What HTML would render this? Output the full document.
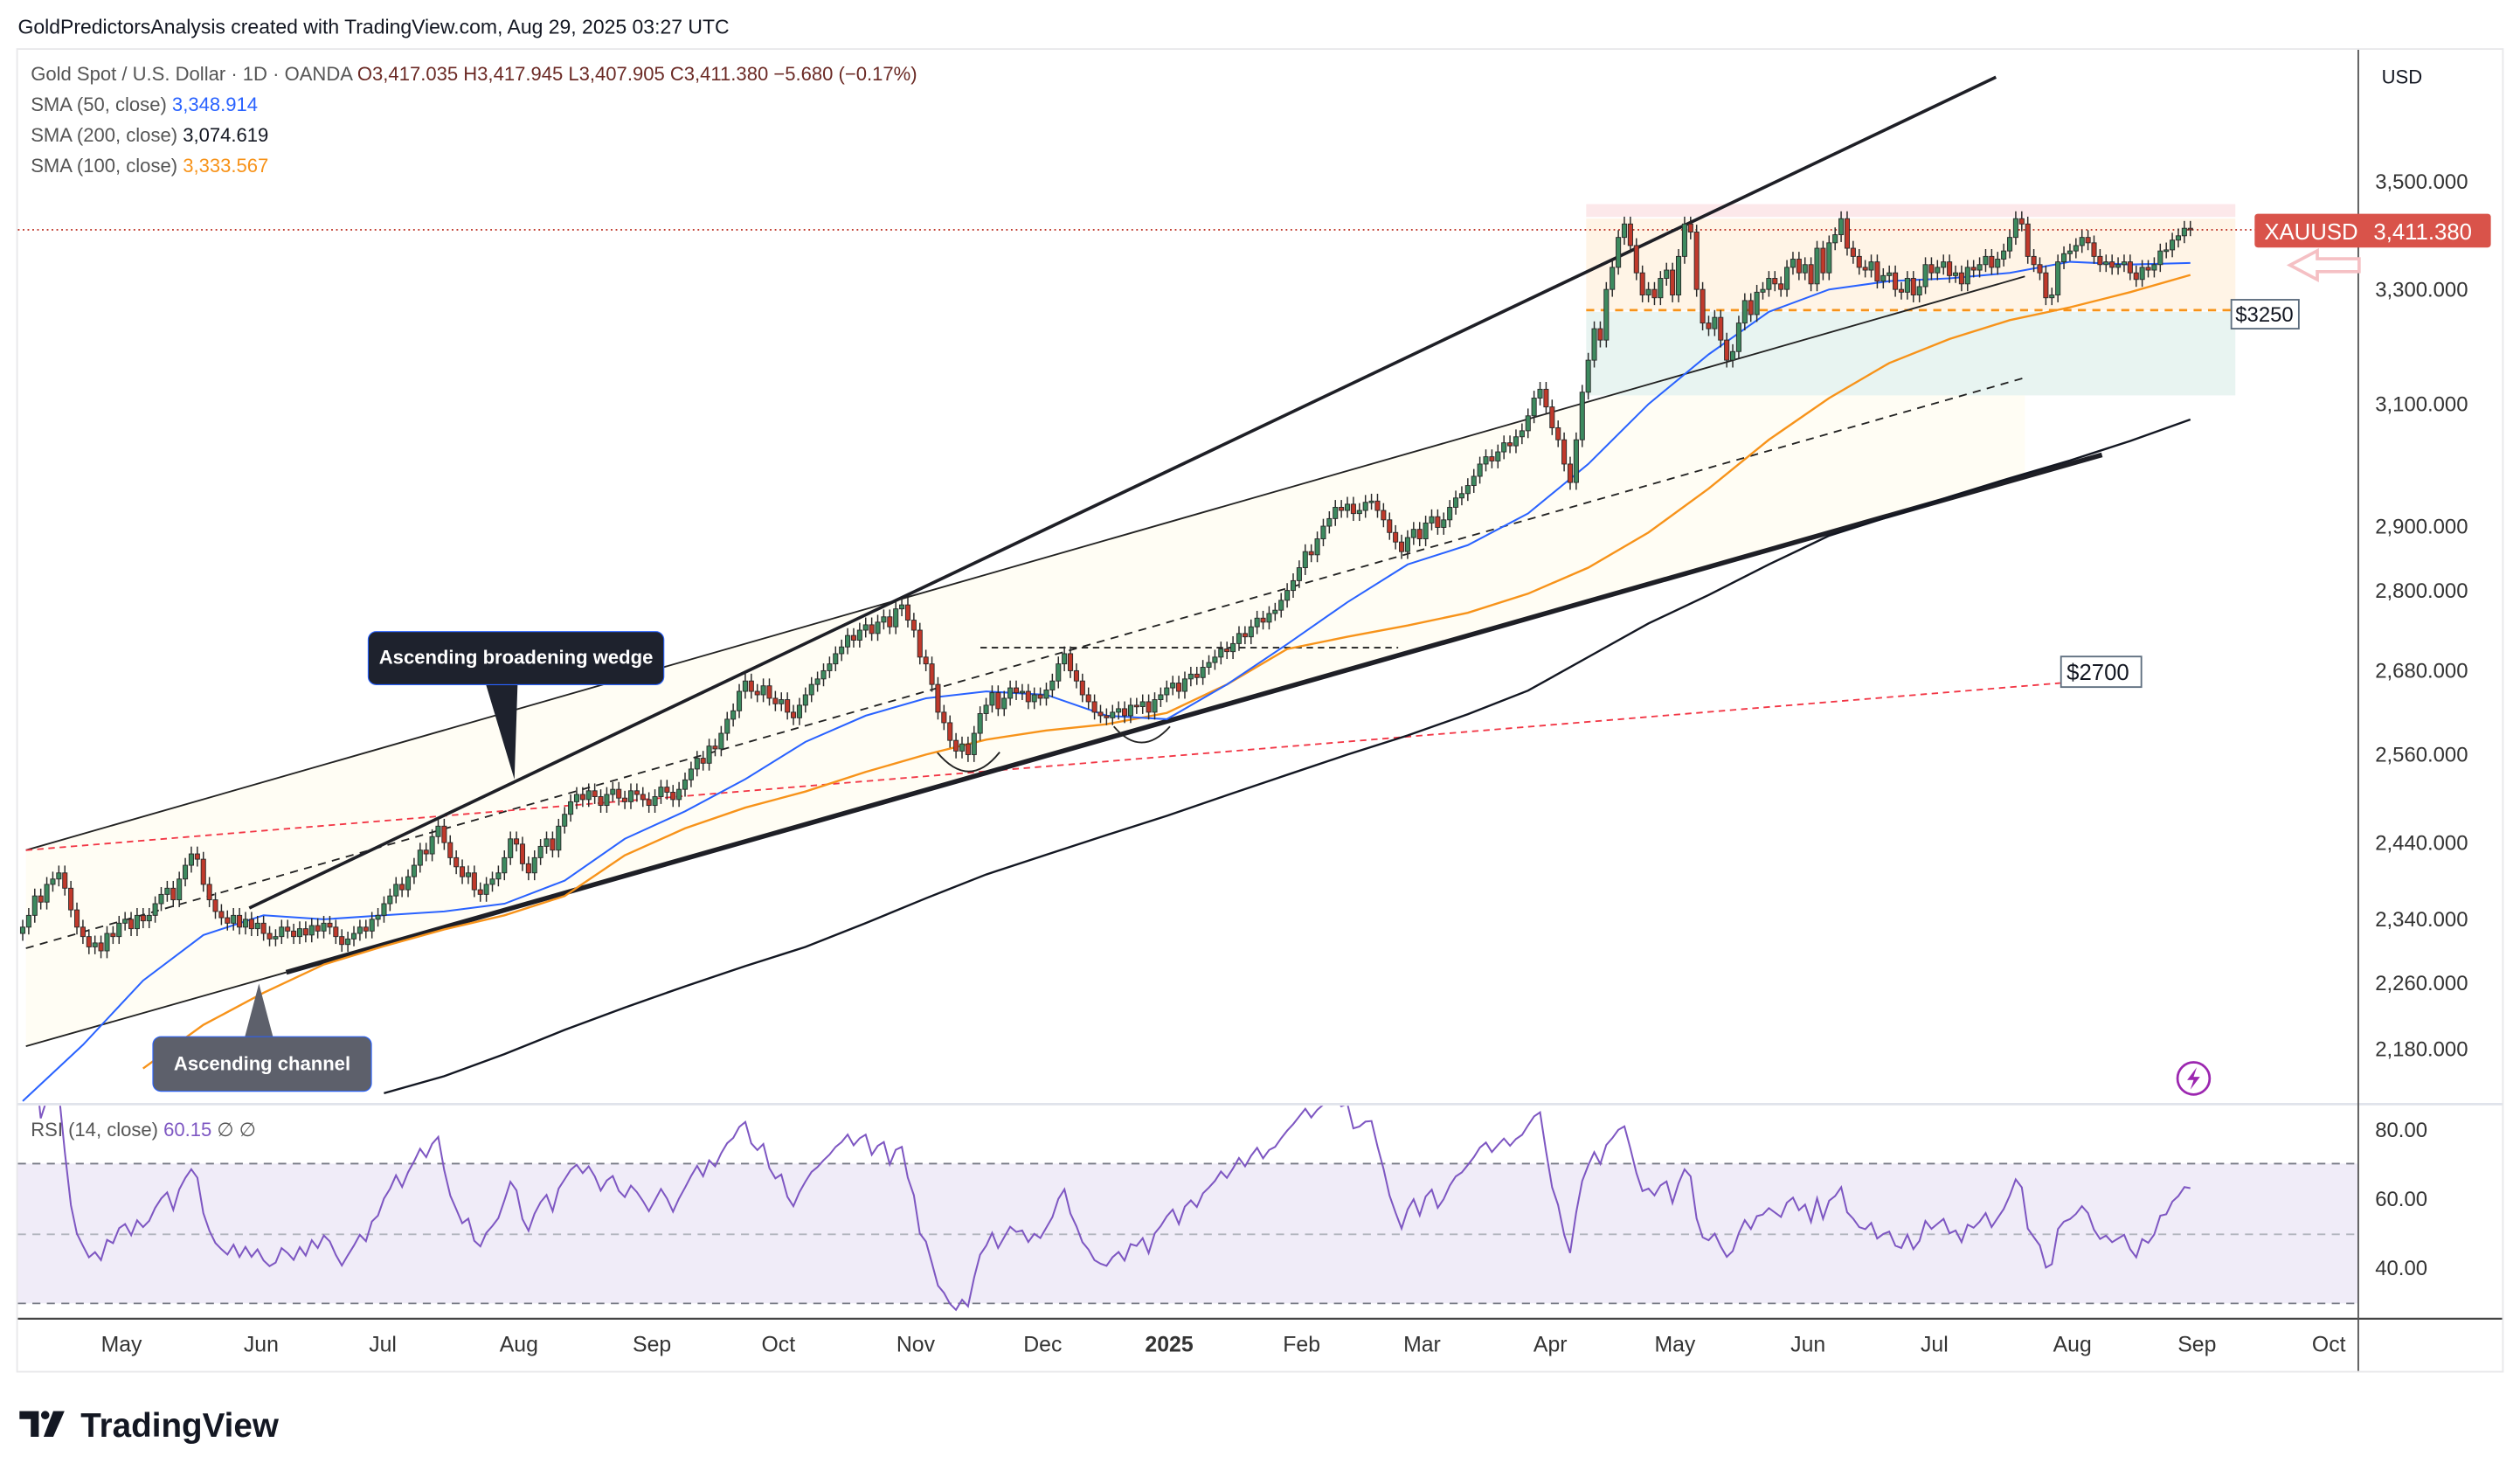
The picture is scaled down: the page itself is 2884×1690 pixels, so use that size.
<!DOCTYPE html>
<html><head><meta charset="utf-8"><style>
html,body{margin:0;padding:0;background:#fff;}
svg{display:block;font-family:"Liberation Sans",sans-serif;}
</style></head><body>
<svg id="chart" width="2884" height="1690" viewBox="0 0 1568 919" xmlns="http://www.w3.org/2000/svg">
<defs>
<clipPath id="mainClip"><rect x="11" y="31" width="1456" height="655"/></clipPath>
<clipPath id="rsiClip"><rect x="11" y="688" width="1456" height="132"/></clipPath>
</defs>
<rect width="1568" height="919" fill="#fff"/>
<text x="11" y="21" font-size="12.5" fill="#131722">GoldPredictorsAnalysis created with TradingView.com, Aug 29, 2025 03:27 UTC</text>
<rect x="10.5" y="30.5" width="1547" height="823" fill="none" stroke="#e8e8ea"/>
<g clip-path="url(#mainClip)">
  <polygon points="16,529 1260,172 1260,297 16,651" fill="#fffdf4"/>
  <rect x="987" y="127" width="404" height="8" fill="#fce8ea"/>
  <rect x="987" y="136" width="404" height="57" fill="#fff4e6"/>
  <rect x="987" y="194" width="404" height="52" fill="#e8f4f1"/>
  <line x1="987" y1="193" x2="1391" y2="193" stroke="#f7931a" stroke-width="1.5" stroke-dasharray="5,4"/>
  <line x1="11" y1="143" x2="1467" y2="143" stroke="#c0392b" stroke-width="1" stroke-dasharray="1,2"/>
  <line x1="16" y1="529" x2="1260" y2="172" stroke="#222" stroke-width="1"/>
  <line x1="16" y1="651" x2="178" y2="605" stroke="#222" stroke-width="1"/>
  <line x1="16" y1="590" x2="1260" y2="235" stroke="#222" stroke-width="1" stroke-dasharray="5,4"/>
  <line x1="16" y1="529" x2="1282" y2="425" stroke="#f23645" stroke-width="1" stroke-dasharray="4,3"/>
  <line x1="610" y1="403" x2="870" y2="403" stroke="#222" stroke-width="1" stroke-dasharray="4,3"/>
  <line x1="155" y1="565" x2="1242" y2="48" stroke="#1e1f26" stroke-width="2"/>
  <line x1="178" y1="605" x2="1308" y2="283" stroke="#1e1f26" stroke-width="3"/>
  <path d="M583,468 Q603,492 622,468" fill="none" stroke="#222" stroke-width="1"/>
  <path d="M693,452 Q710,472 728,452" fill="none" stroke="#222" stroke-width="1"/>
  <g id="smas"></g>
  <g id="candles"></g>
</g>
<g>
  <line x1="11" y1="687" x2="1557" y2="687" stroke="#e0e3eb" stroke-width="1.5"/>
  <rect x="11" y="724" width="1456" height="87" fill="#f0ecf8"/>
  <line x1="11" y1="724" x2="1467" y2="724" stroke="#787b86" stroke-dasharray="5,4"/>
  <line x1="11" y1="768" x2="1467" y2="768" stroke="#b2b5be" stroke-dasharray="5,4"/>
  <line x1="11" y1="811" x2="1467" y2="811" stroke="#787b86" stroke-dasharray="5,4"/>
  <g id="rsi" clip-path="url(#rsiClip)"></g>
  <text x="19" y="707" font-size="12" fill="#555">RSI (14, close) <tspan fill="#7e57c2">60.15</tspan>  ∅  ∅</text>
</g>
<line x1="11" y1="820.5" x2="1557" y2="820.5" stroke="#444" stroke-width="1.2"/>
<line x1="1467.5" y1="31" x2="1467.5" y2="853" stroke="#555" stroke-width="1"/>
<g id="yaxis"></g>
<g id="xaxis"></g>
<g font-size="12">
  <text x="19" y="50" fill="#555">Gold Spot / U.S. Dollar · 1D · OANDA <tspan fill="#6b2a25">O3,417.035 H3,417.945 L3,407.905 C3,411.380 −5.680 (−0.17%)</tspan></text>
  <text x="19" y="69" fill="#555">SMA (50, close) <tspan fill="#2962ff">3,348.914</tspan></text>
  <text x="19" y="88" fill="#555">SMA (200, close) <tspan fill="#131722">3,074.619</tspan></text>
  <text x="19" y="107" fill="#555">SMA (100, close) <tspan fill="#f7931a">3,333.567</tspan></text>
</g>
<text x="1482" y="52" font-size="12" fill="#131722">USD</text>
<g>
  <rect x="1403" y="133" width="147" height="21" rx="2" fill="#d9534a"/>
  <text x="1409" y="149" font-size="14" fill="#fff">XAUUSD</text>
  <text x="1477" y="149" font-size="14" fill="#fff">3,411.380</text>
</g>
<path d="M1425,165 L1442,156 L1442,161 L1468,161 L1468,169 L1442,169 L1442,174 Z" fill="none" stroke="#f5c0c4" stroke-width="2"/>
<g>
  <rect x="1388.5" y="186.5" width="42" height="18" fill="#fff" stroke="#5d6d7e"/>
  <text x="1391" y="200" font-size="13" fill="#131722">$3250</text>
</g>
<g>
  <rect x="1282.5" y="408.5" width="50" height="19" fill="#fff" stroke="#5d6d7e"/>
  <text x="1286" y="423" font-size="14" fill="#131722">$2700</text>
</g>
<g>
  <path d="M302,425 L322,425 L320,485 Z" fill="#1e222d"/>
  <rect x="229" y="393" width="184" height="33" rx="5" fill="#1e222d" stroke="#2962ff" stroke-width="0.6"/>
  <text x="321" y="413" font-size="12" font-weight="bold" fill="#fff" text-anchor="middle">Ascending broadening wedge</text>
</g>
<g>
  <path d="M152,646 L170,646 L161,612 Z" fill="#5d606b"/>
  <rect x="95" y="645" width="136" height="34" rx="5" fill="#5d606b" stroke="#2962ff" stroke-width="0.6"/>
  <text x="163" y="666" font-size="12" font-weight="bold" fill="#fff" text-anchor="middle">Ascending channel</text>
</g>
<g>
  <circle cx="1365" cy="671" r="10" fill="#fff" stroke="#9c27b0" stroke-width="1.5"/>
  <path d="M1367,664 L1361,672 L1365,672 L1363,678 L1369,670 L1365,670 Z" fill="#9c27b0"/>
</g>
<g>
  <path d="M12,878 L24,878 L24,894 L19,894 L19,883 L12,883 Z" fill="#131722"/>
  <circle cx="28" cy="880.5" r="2.6" fill="#131722"/>
  <path d="M33,878 L40,878 L33,894 L27,894 Z" fill="#131722"/>
  <text x="50" y="894" font-size="21" font-weight="bold" fill="#131722">TradingView</text>
</g>
</svg>
<script>
// ---- data ----
const closes = [2330,2345,2370,2362,2385,2392,2400,2380,2352,2330,2318,
2305,2310,2300,2322,2318,2335,2340,2328,2345,
2338,2345,2360,2372,2380,2365,2392,2410,2425,2418,
2385,2365,2350,2342,2335,2345,2330,2340,2328,2335,
2322,2315,2318,2330,2325,2318,2328,2320,2332,2325,
2335,2330,2318,2308,2315,2322,2330,2325,2340,2345,
2360,2370,2385,2378,2395,2410,2430,2425,2448,2462,
2440,2420,2408,2395,2400,2378,2372,2385,2392,2400,
2420,2445,2438,2412,2400,2420,2435,2445,2430,2462,
2478,2495,2505,2498,2510,2502,2490,2505,2512,2500,
2495,2510,2505,2498,2490,2502,2515,2508,2498,2512,
2525,2540,2555,2548,2572,2568,2590,2610,2622,2650,
2665,2650,2645,2658,2640,2632,2638,2620,2612,2630,
2645,2660,2668,2680,2690,2705,2715,2732,2725,2740,
2748,2735,2752,2760,2745,2772,2778,2755,2740,2700,
2690,2660,2620,2605,2580,2565,2575,2560,2590,2618,
2630,2648,2625,2640,2655,2648,2650,2635,2645,2640,
2652,2665,2690,2705,2680,2665,2645,2635,2620,2615,
2612,2620,2625,2615,2630,2628,2635,2620,2638,2645,
2655,2662,2650,2668,2675,2670,2685,2692,2700,2712,
2708,2720,2735,2730,2745,2758,2752,2765,2770,2785,
2800,2815,2835,2860,2855,2880,2900,2912,2930,2925,
2935,2920,2925,2938,2940,2925,2910,2890,2875,2860,
2882,2895,2880,2905,2915,2898,2910,2930,2945,2952,
2965,2980,3000,3012,3005,3020,3035,3030,3045,3055,
3080,3110,3125,3095,3060,3040,3000,2970,3040,3120,
3175,3230,3210,3300,3340,3395,3420,3380,3330,3290,
3300,3285,3320,3335,3290,3360,3420,3405,3300,3240,
3230,3250,3210,3175,3190,3240,3280,3255,3295,3300,
3320,3310,3300,3340,3355,3330,3345,3310,3375,3330,
3385,3400,3430,3375,3360,3340,3335,3350,3315,3325,
3330,3300,3295,3320,3290,3305,3345,3330,3340,3350,
3325,3330,3310,3340,3335,3345,3360,3340,3355,3370,
3395,3430,3420,3360,3345,3330,3285,3290,3350,3365,
3370,3380,3395,3385,3360,3345,3350,3340,3345,3350,
3330,3318,3340,3335,3345,3370,3372,3390,3398,3412,3411];
// SMA values sampled every 10 bars (null = off chart)
const sma50 = [2119,2185,2263,2320,2345,2340,2345,2350,2360,2390,2445,2482,2526,2578,2615,2640,2650,2645,2615,2610,2660,2719,2782,2840,2870,2920,3000,3100,3185,3260,3300,3315,3320,3330,3350,3345,3348];
const sma100 = [null,null,2157,2209,2248,2283,2306,2327,2345,2370,2423,2459,2487,2509,2536,2560,2581,2594,2603,2619,2660,2712,2730,2747,2766,2795,2835,2890,2960,3040,3110,3170,3212,3245,3268,3295,3326];
const sma200 = [null,null,null,null,null,null,2128,2148,2174,2203,2230,2256,2281,2305,2335,2367,2398,2424,2450,2476,2504,2532,2560,2587,2617,2651,2700,2750,2793,2840,2885,2915,2947,2977,3006,3038,3074];
const priceTicks = [3500,3300,3100,2900,2800,2680,2560,2440,2340,2260,2180];
const rsiTicks = [80,60,40];
const monthNames = ["May","Jun","Jul","Aug","Sep","Oct","Nov","Dec","2025","Feb","Mar","Apr","May","Jun","Jul","Aug","Sep","Oct"];
const monthBars = [16.4,39.6,59.8,82.4,104.5,125.5,148.3,169.4,190.4,212.4,232.4,253.7,274.4,296.5,317.5,340.4,361.1,383];

// ---- scales ----
const NS="http://www.w3.org/2000/svg";
const N = closes.length;
const step = 1349/(N-1);
const xI = i => 14 + i*step;
const yP = p => 113 + Math.log(3500/p)*1140;
const yR = v => 703 + (80-v)*2.15;
function mk(tag, attrs, parent){const e=document.createElementNS(NS,tag);for(const k in attrs)e.setAttribute(k,attrs[k]);parent.appendChild(e);return e;}

// candles
const cg = document.getElementById('candles');
for(let i=0;i<N;i++){
  const c=closes[i], o=i>0?closes[i-1]:c-8;
  const hi=Math.max(o,c)*1.004, lo=Math.min(o,c)*0.996;
  const up=c>=o, x=xI(i);
  const g=mk('g',{},cg);
  
  
  mk('line',{x1:x,x2:x,y1:yP(hi),y2:yP(lo),stroke:'#2a2a2a','stroke-width':0.8},g);
  const yt=yP(Math.max(o,c)), yb=yP(Math.min(o,c));
  mk('rect',{x:x-1.4,y:yt,width:2.8,height:Math.max(1,yb-yt),fill:up?'#3d8a5f':'#c0392b',stroke:'#2a2a2a','stroke-width':0.5},g);
}
// SMAs
const sg=document.getElementById('smas');
function smaLine(arr,color,w,name){
  let d='';
  arr.forEach((v,k)=>{ if(v==null) return; d+=(d?'L':'M')+xI(k*10).toFixed(1)+','+yP(v).toFixed(1); });
  const p=mk('path',{d:d,fill:'none',stroke:color,'stroke-width':w},sg);
  
  
}
smaLine(sma200,'#131722',1.3,'sma-200-line');
smaLine(sma100,'#f7931a',1.3,'sma-100-line');
smaLine(sma50,'#2962ff',1.1,'sma-50-line');

// RSI computed from closes (Wilder)
const rsiVals=[];
let ag=0, al=0;
for(let i=1;i<N;i++){
  const ch=closes[i]-closes[i-1];
  const gg=Math.max(ch,0), ll=Math.max(-ch,0);
  const n=Math.min(i,14);
  ag=(ag*(n-1)+gg)/n; al=(al*(n-1)+ll)/n;
  rsiVals.push([i, al===0?100:100-100/(1+ag/al)]);
}
let rd='';
rsiVals.forEach(([i,v])=>{rd+=(rd?'L':'M')+xI(i).toFixed(1)+','+yR(v).toFixed(1);});
const rp=mk('path',{d:rd,fill:'none',stroke:'#7e57c2','stroke-width':1.1},document.getElementById('rsi'));



// y axis
const ya=document.getElementById('yaxis');
priceTicks.forEach(p=>{
  const t=mk('text',{x:1478,y:yP(p)+4.5,'font-size':13,fill:'#333'},ya);
  
  
  t.textContent=p.toLocaleString('en-US',{minimumFractionDigits:3});
});
rsiTicks.forEach(v=>{
  const t=mk('text',{x:1478,y:yR(v)+4.5,'font-size':13,fill:'#333'},ya);
  
  
  t.textContent=v.toFixed(2);
});
// x axis
const xa=document.getElementById('xaxis');
monthNames.forEach((m,k)=>{
  const t=mk('text',{x:xI(monthBars[k]),y:841,'font-size':13.5,fill:'#333','text-anchor':'middle','font-weight':m==='2025'?'bold':'normal'},xa);
  
  
  t.textContent=m;
});
</script>
</body></html>
